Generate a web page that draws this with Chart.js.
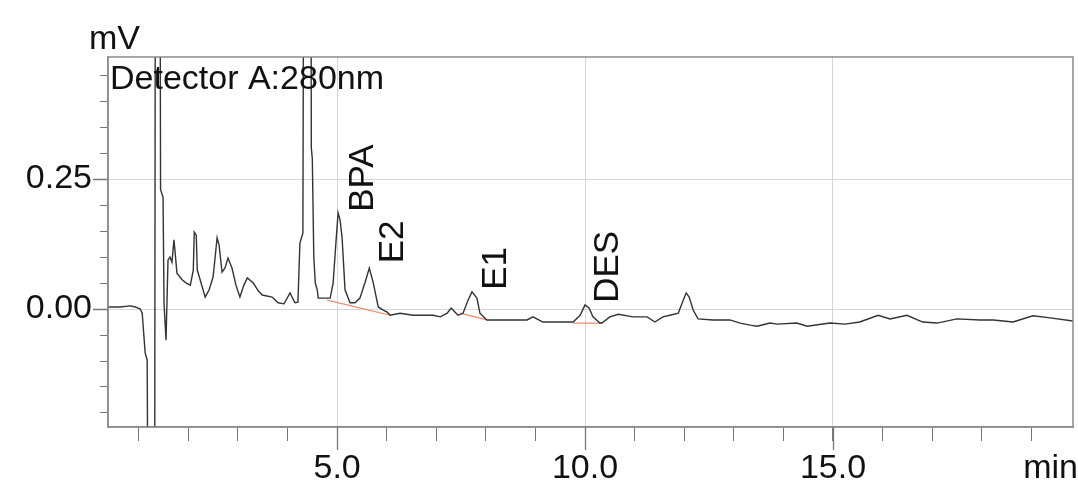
<!DOCTYPE html>
<html lang="en">
<head>
<meta charset="UTF-8">
<title>Detector A:280nm</title>
<script src="https://cdn.jsdelivr.net/npm/chart.js"></script>
<style>
  body { margin: 0; background: #fff; }
  #wrap { width: 1078px; height: 489px; }
</style>
</head>
<body>
<div id="wrap"><canvas id="chrom"></canvas></div>
<script>
// retention time (min) and signal (mV)
const times = [0.38,0.62,0.83,0.93,1.03,1.07,1.13,1.17,1.19,1.32,1.34,1.42,1.44,1.49,1.51,1.55,1.59,1.63,1.67,1.71,1.73,1.77,1.88,1.96,2.04,2.10,2.12,2.16,2.18,2.24,2.34,2.42,2.50,2.58,2.62,2.68,2.74,2.80,2.88,2.96,3.04,3.12,3.19,3.31,3.41,3.49,3.69,3.81,3.93,4.05,4.15,4.21,4.25,4.31,4.33,4.40,4.47,4.48,4.50,4.53,4.56,4.60,4.62,4.70,4.86,4.92,4.98,5.02,5.06,5.10,5.16,5.26,5.36,5.46,5.56,5.65,5.73,5.83,5.93,6.01,6.07,6.27,6.53,6.94,7.08,7.22,7.30,7.38,7.44,7.54,7.64,7.72,7.82,7.88,8.02,8.15,8.55,8.83,8.95,9.15,9.50,9.76,9.90,10.00,10.08,10.16,10.30,10.34,10.50,10.67,10.97,11.25,11.41,11.57,11.71,11.88,11.98,12.04,12.10,12.18,12.28,12.58,12.92,13.13,13.33,13.47,13.73,13.87,14.27,14.48,14.94,15.24,15.54,15.91,16.15,16.49,16.81,17.10,17.50,17.96,18.23,18.63,19.03,19.38,19.84];
const signal = [0.004,0.004,0.006,0.004,0.000,-0.008,-0.085,-0.098,-0.5,-0.5,1.2,1.2,0.23,0.215,0.01,-0.06,0.094,0.100,0.090,0.133,0.113,0.069,0.056,0.050,0.046,0.075,0.148,0.142,0.075,0.056,0.023,0.037,0.062,0.137,0.123,0.071,0.079,0.098,0.079,0.046,0.023,0.046,0.060,0.050,0.035,0.027,0.023,0.012,0.010,0.031,0.012,0.013,0.127,0.146,0.9,1.8,0.9,0.31,0.29,0.10,0.050,0.037,0.021,0.021,0.021,0.050,0.133,0.185,0.171,0.138,0.037,0.012,0.012,0.021,0.050,0.079,0.050,0.004,-0.002,-0.006,-0.012,-0.008,-0.012,-0.012,-0.015,-0.008,0.002,-0.006,-0.012,-0.008,0.017,0.033,0.021,-0.008,-0.021,-0.021,-0.021,-0.021,-0.015,-0.025,-0.025,-0.025,-0.012,0.008,0.002,-0.015,-0.027,-0.027,-0.015,-0.010,-0.015,-0.015,-0.025,-0.015,-0.012,-0.008,0.017,0.031,0.023,-0.002,-0.019,-0.021,-0.021,-0.027,-0.031,-0.033,-0.027,-0.029,-0.027,-0.033,-0.027,-0.029,-0.025,-0.012,-0.019,-0.012,-0.025,-0.027,-0.019,-0.021,-0.021,-0.025,-0.013,-0.017,-0.023];

// integration baselines (start/end of each)
const baseT = [4.80, 6.07, null, 7.48, 8.02, null, 9.76, 10.34];
const baseV = [0.017, -0.012, null, -0.008, -0.021, null, -0.027, -0.027];

// peak names and where their labels sit (min, mV)
const peakNames = ['BPA', 'E2', 'E1', 'DES'];
const peakT = [5.50, 6.11, 8.19, 10.44];
const peakV = [0.187, 0.088, 0.037, 0.012];

const xMajor = [5, 10, 15];
const yMajor = [0, 0.25];

const FONT = "'Liberation Sans', Arial, sans-serif";
const isMajor = (v, list) => list.some(m => Math.abs(v - m) < 1e-6);

const extras = {
  id: 'extras',
  afterDraw(chart) {
    const { ctx, chartArea: a, scales: { x, y } } = chart;
    ctx.save();
    // frame
    ctx.strokeStyle = '#8a8a8a';
    ctx.lineWidth = 1.5;
    ctx.strokeRect(a.left, a.top, a.right - a.left, a.bottom - a.top);
    // longer marks at labelled ticks
    ctx.lineWidth = 1.3;
    ctx.strokeStyle = '#777';
    ctx.beginPath();
    xMajor.forEach(v => {
      const px = Math.round(x.getPixelForValue(v)) + 0.5;
      ctx.moveTo(px, a.bottom); ctx.lineTo(px, a.bottom + 23);
    });
    yMajor.forEach(v => {
      const py = Math.round(y.getPixelForValue(v)) + 0.5;
      ctx.moveTo(a.left, py); ctx.lineTo(a.left - 15, py);
    });
    ctx.stroke();

    ctx.fillStyle = '#111';
    ctx.font = '34px ' + FONT;
    ctx.textBaseline = 'alphabetic';
    ctx.textAlign = 'left';
    ctx.fillText('mV', 89, 49);
    ctx.textAlign = 'right';
    ctx.fillText('min', 1078, 478);
    ctx.textAlign = 'left';
    ctx.fillText('Detector A:280nm', a.left + 2, 89);

    // peak names, vertical
    ctx.font = '35px ' + FONT;
    ctx.textBaseline = 'middle';
    peakNames.forEach((n, i) => {
      ctx.save();
      ctx.translate(x.getPixelForValue(peakT[i]), y.getPixelForValue(peakV[i]));
      ctx.rotate(-Math.PI / 2);
      ctx.fillText(n, 0, 1);
      ctx.restore();
    });
    ctx.restore();
  }
};

new Chart(document.getElementById('chrom'), {
  type: 'line',
  data: {
    datasets: [{
      data: times.map((t, i) => ({ x: t, y: signal[i] })),
      borderColor: '#333',
      borderWidth: 1.4,
      pointRadius: 0,
      tension: 0
    }, {
      data: baseT.map((t, i) => ({ x: t, y: baseV[i] })),
      borderColor: '#f08a6a',
      borderWidth: 1.2,
      pointRadius: 0,
      spanGaps: false
    }]
  },
  options: {
    responsive: true,
    maintainAspectRatio: false,
    animation: false,
    layout: { padding: { top: 57, right: 5, left: 0, bottom: 0 } },
    plugins: { legend: { display: false }, tooltip: { enabled: false } },
    scales: {
      x: {
        type: 'linear',
        min: 0.38,
        max: 19.84,
        afterFit(s) { s.height = 62; },
        border: { color: '#8a8a8a', width: 1.5 },
        grid: {
          color: c => isMajor(c.tick.value, xMajor) ? '#d6d6d6' : 'rgba(0,0,0,0)',
          tickColor: '#777',
          tickLength: 14,
          lineWidth: 1
        },
        ticks: {
          stepSize: 1,
          includeBounds: false,
          autoSkip: false,
          maxRotation: 0,
          padding: 7,
          color: '#111',
          font: { family: FONT, size: 34 },
          callback: v => isMajor(v, xMajor) ? v.toFixed(1) : ''
        }
      },
      y: {
        min: -0.227,
        max: 0.485,
        afterFit(s) { s.width = 108; },
        border: { color: '#8a8a8a', width: 1.5 },
        grid: {
          color: c => isMajor(c.tick.value, yMajor) ? '#d6d6d6' : 'rgba(0,0,0,0)',
          tickColor: '#777',
          tickLength: 8,
          lineWidth: 1
        },
        ticks: {
          stepSize: 0.05,
          includeBounds: false,
          autoSkip: false,
          padding: 8,
          color: '#111',
          font: { family: FONT, size: 34 },
          callback: v => isMajor(v, yMajor) ? v.toFixed(2) : ''
        }
      }
    }
  },
  plugins: [extras]
});
</script>
</body>
</html>
